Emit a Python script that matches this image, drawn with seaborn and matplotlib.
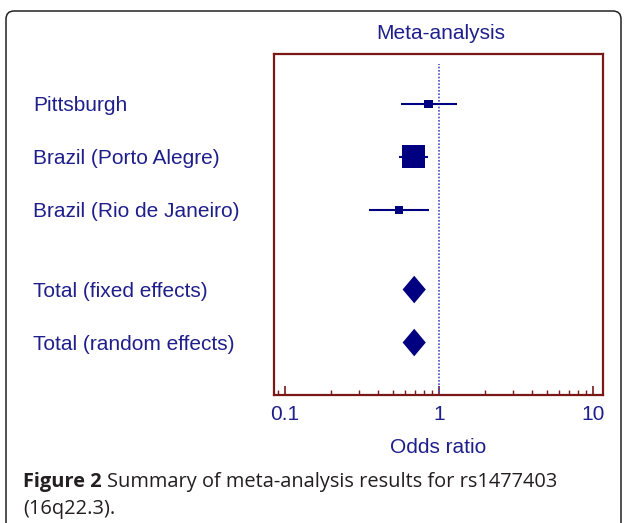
import numpy as np
import pandas as pd
import matplotlib
matplotlib.use("Agg")
import matplotlib.pyplot as plt
import matplotlib.transforms as mtransforms
from matplotlib.patches import FancyBboxPatch
from matplotlib.ticker import FixedLocator, FixedFormatter, LogLocator, NullFormatter
import seaborn as sns

# Données (odds ratio et IC 95 %)
studies = ["Pittsburgh", "Brazil (Porto Alegre)", "Brazil (Rio de Janeiro)"]
study_or = [0.86, 0.68, 0.55]
study_lo = [0.57, 0.55, 0.35]
study_hi = [1.30, 0.85, 0.86]
study_weight = [12.0, 78.5, 9.5]

totals = ["Total (fixed effects)", "Total (random effects)"]
total_or = [0.69, 0.69]
total_lo = [0.58, 0.58]
total_hi = [0.82, 0.82]

tick_values = [0.1, 1, 10]
tick_labels = ["0.1", "1", "10"]

navy = "#000080"
text_color = "#1f1f8c"
maroon = "#7a1717"

sns.set_theme(style="white")
plt.rcParams["font.family"] = ["Liberation Sans", "DejaVu Sans"]

W, H = 624, 523
fig = plt.figure(figsize=(W / 100, H / 100), dpi=100)
ax = fig.add_axes([274 / W, 1 - 395 / H, (603 - 274) / W, (395 - 54) / H])

study_rows = np.arange(len(studies), dtype=float)
total_rows = len(studies) + 0.5 + np.arange(len(totals))

df = pd.DataFrame({"study": studies, "or": study_or, "lo": study_lo,
                   "hi": study_hi, "weight": study_weight, "row": study_rows})

# Intervalles de confiance + carrés pondérés
ax.hlines(df["row"], df["lo"], df["hi"], color=navy, lw=1.5, zorder=2)
sns.scatterplot(data=df, x="or", y="row", size="weight", sizes=(33, 274),
                marker="s", color=navy, edgecolor=navy, linewidth=0,
                legend=False, ax=ax, zorder=3)

# Losanges pour les effets combinés
for r, est, lo, hi in zip(total_rows, total_or, total_lo, total_hi):
    ax.fill([lo, est, hi, est], [r, r - 0.26, r, r + 0.26], color=navy, lw=0, zorder=3)

ax.axvline(1, ymin=0, ymax=0.97, color="#4b4bc8", lw=1.2, ls=(0, (1, 1)), zorder=1)

ax.set_xscale("log")
ax.set_xlim(0.0848, 11.6)
ax.set_ylim(5.49, -0.943)
ax.xaxis.set_major_locator(FixedLocator(tick_values))
ax.xaxis.set_major_formatter(FixedFormatter(tick_labels))
ax.xaxis.set_minor_locator(LogLocator(base=10, subs=np.arange(2, 10)))
ax.xaxis.set_minor_formatter(NullFormatter())
ax.tick_params(axis="x", which="major", direction="in", length=6.5, width=1.2,
               color=maroon, labelcolor=text_color, labelsize=15, pad=7, bottom=True)
ax.tick_params(axis="x", which="minor", direction="in", length=3.6, width=1.0,
               color=maroon, bottom=True)
ax.set_yticks([])
ax.set_xlabel("")
ax.set_ylabel("")
for sp in ax.spines.values():
    sp.set_visible(True)
    sp.set_color(maroon)
    sp.set_linewidth(1.6)

# Libellés des lignes à gauche
trans = mtransforms.blended_transform_factory(fig.transFigure, ax.transData)
trans = trans + mtransforms.ScaledTranslation(0, -7 / 100, fig.dpi_scale_trans)
for r, name in zip(list(study_rows) + list(total_rows), studies + totals):
    ax.text(33 / W, r, name, transform=trans, ha="left", va="baseline",
            fontsize=15, color=text_color)

fig.text(441 / W, 1 - 39 / H, "Meta-analysis", ha="center", va="baseline",
         fontsize=15, color=text_color)
fig.text(438 / W, 1 - 453 / H, "Odds ratio", ha="center", va="baseline",
         fontsize=15, color=text_color)

# Cadre arrondi
frame = FancyBboxPatch((6 / W, -0.1), (621 - 6) / W, 1.1 - 11 / H,
                       boxstyle="round,pad=0,rounding_size=0.013",
                       mutation_aspect=W / H, transform=fig.transFigure,
                       fill=False, edgecolor="#222222", lw=1.1, clip_on=False)
fig.patches.append(frame)

# Légende de la figure
cap_color = "#231f20"
cap_size = 14.4
t1 = fig.text(23 / W, 1 - 487 / H, "Figure 2", ha="left", va="baseline",
              fontsize=cap_size, fontweight="bold", family="Open Sans", color=cap_color)
fig.canvas.draw()
bb = t1.get_window_extent()
fig.text((bb.x1 + 5) / W, 1 - 487 / H, "Summary of meta-analysis results for rs1477403",
         ha="left", va="baseline", fontsize=cap_size, family="Open Sans", color=cap_color)
fig.text(23 / W, 1 - 514 / H, "(16q22.3).", ha="left", va="baseline",
         fontsize=cap_size, family="Open Sans", color=cap_color)

fig.savefig("out.png", dpi=100)
